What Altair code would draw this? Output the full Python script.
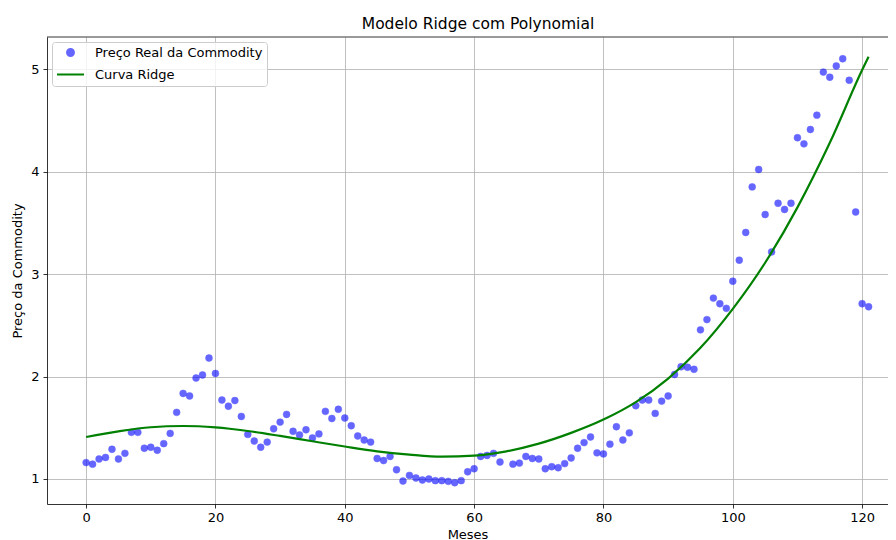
import altair as alt
import pandas as pd

# Observed commodity prices (month, price)
months = [0, 1, 2, 3, 4, 5, 6, 7, 8, 9, 10, 11, 12, 13, 14, 15, 16, 17, 18, 19,
          20, 21, 22, 23, 24, 25, 26, 27, 28, 29, 30, 31, 32, 33, 34, 35, 36, 37, 38, 39,
          40, 41, 42, 43, 44, 45, 46, 47, 48, 49, 50, 51, 52, 53, 54, 55, 56, 57, 58, 59,
          60, 61, 62, 63, 64, 66, 67, 68, 69, 70, 71, 72, 73, 74, 75, 76, 77, 78, 79,
          80, 81, 82, 83, 84, 85, 86, 87, 88, 89, 90, 91, 92, 93, 94, 95, 96, 97, 98, 99,
          100, 101, 102, 103, 104, 105, 106, 107, 108, 109, 110, 111, 112, 113, 114, 115,
          116, 117, 118, 119, 120, 121]
prices = [1.16, 1.145, 1.195, 1.21, 1.29, 1.195, 1.25, 1.455, 1.455, 1.30,
          1.31, 1.28, 1.345, 1.445, 1.65, 1.835, 1.81, 1.985, 2.015, 2.18,
          2.03, 1.77, 1.71, 1.765, 1.61, 1.435, 1.37, 1.31, 1.36, 1.49,
          1.555, 1.63, 1.465, 1.43, 1.48, 1.40, 1.44, 1.66, 1.59, 1.68,
          1.595, 1.52, 1.42, 1.38, 1.36, 1.20, 1.18, 1.22, 1.09, 0.98,
          1.035, 1.01, 0.99, 1.00, 0.984, 0.984, 0.977, 0.964, 0.984, 1.07,
          1.10, 1.22, 1.23, 1.25, 1.165, 1.145, 1.155, 1.22, 1.20,
          1.195, 1.10, 1.12, 1.11, 1.15, 1.205, 1.30, 1.355, 1.41, 1.255,
          1.245, 1.34, 1.51, 1.38, 1.45, 1.715, 1.77, 1.77, 1.64, 1.76,
          1.81, 2.02, 2.095, 2.09, 2.07, 2.455, 2.555, 2.765, 2.71, 2.665,
          2.93, 3.135, 3.405, 3.85, 4.02, 3.58, 3.215, 3.69, 3.63, 3.69,
          4.33, 4.27, 4.41, 4.55, 4.97, 4.92, 5.03, 5.10, 4.89, 3.605,
          2.71, 2.68]

# Ridge curve
curve_months = [0, 5, 10, 15, 20, 25, 30, 35, 40, 45, 50, 55, 60, 65, 70, 75,
                80, 85, 90, 95, 100, 105, 110, 115, 120, 121]
curve_values = [1.41, 1.465, 1.505, 1.517, 1.503, 1.468, 1.42, 1.368, 1.317, 1.27,
                1.238, 1.218, 1.228, 1.27, 1.345, 1.45, 1.58, 1.75, 1.98, 2.28,
                2.66, 3.11, 3.65, 4.28, 4.99, 5.12]

x_ticks = [0, 20, 40, 60, 80, 100, 120]
y_ticks = [1, 2, 3, 4, 5]

S_PTS = "Preço Real da Commodity"
S_LINE = "Curva Ridge"
dom = [S_PTS, S_LINE]

pts_df = pd.DataFrame({"Meses": months, "Preco": prices, "serie": S_PTS})
line_df = pd.DataFrame({"Meses": curve_months, "Preco": curve_values, "serie": S_LINE})
frame_df = pd.DataFrame({"spine": ["top"]})

FONT = "DejaVu Sans"
FS = 13
W, H = 841, 467

# the right part of the original axes lies beyond the picture's edge
x_scale = alt.Scale(domain=[-6.05, 124.0], nice=False, zero=False)
y_scale = alt.Scale(domain=[0.756, 5.3125], nice=False, zero=False)

x_enc = alt.X("Meses:Q", scale=x_scale,
              axis=alt.Axis(title="Meses", values=x_ticks, format="d"))
y_enc = alt.Y("Preco:Q", scale=y_scale,
              axis=alt.Axis(title="Preço da Commodity", values=y_ticks, format="d"))

leg = alt.Legend(title=None, orient="top-left", offset=5, padding=4, labelOffset=10,
                 rowPadding=-7, symbolStrokeWidth=2, strokeColor="#cccccc",
                 fillColor="rgba(255,255,255,0.8)", cornerRadius=3, labelLimit=400,
                 labelFont=FONT, labelFontSize=FS, labelColor="black")

color_scale = alt.Scale(domain=dom, range=["#0000ff", "#008000"])

points = alt.Chart(pts_df).mark_point(filled=True, strokeWidth=0.5).encode(
    x=x_enc, y=y_enc,
    color=alt.Color("serie:N", scale=color_scale, legend=leg),
    stroke=alt.Stroke("serie:N", scale=color_scale, legend=leg),
    shape=alt.Shape("serie:N", scale=alt.Scale(domain=dom, range=["circle", "stroke"]), legend=leg),
    size=alt.Size("serie:N", scale=alt.Scale(domain=dom, range=[48, 729]), legend=leg),
    opacity=alt.Opacity("serie:N", scale=alt.Scale(domain=dom, range=[0.6, 1.0]), legend=leg),
)

line = alt.Chart(line_df).mark_line(strokeWidth=2.2, interpolate="monotone").encode(
    x=x_enc, y=y_enc,
    stroke=alt.Stroke("serie:N", scale=color_scale, legend=leg),
)

# top spine of the frame
top_spine = alt.Chart(frame_df).mark_rule(color="black", strokeWidth=0.8).encode(
    x=alt.value(0), x2=alt.value(W), y=alt.value(0)
)

chart = alt.layer(points, line, top_spine).properties(
    width=W, height=H,
    title=alt.TitleParams("Modelo Ridge com Polynomial", font=FONT, fontSize=15.5,
                          fontWeight="normal", color="black", anchor="middle", offset=4,
                          dx=10.5),
    autosize=alt.AutoSizeParams(type="none"),
    padding={"left": 39, "top": 29, "right": 0, "bottom": 36},
).configure_view(
    strokeWidth=0
).configure_axis(
    labelFont=FONT, labelFontSize=FS, labelColor="black",
    titleFont=FONT, titleFontSize=FS, titleFontWeight="normal", titleColor="black",
    tickColor="black", tickSize=4, tickWidth=0.8,
    domainColor="black", domainWidth=0.8,
    grid=True, gridColor="#b0b0b0", gridWidth=0.8,
).configure_axisX(labelPadding=3, titlePadding=4).configure_axisY(labelPadding=4, titlePadding=6.5)

chart.save("out.html", embed_options={"renderer": "svg", "actions": False})
